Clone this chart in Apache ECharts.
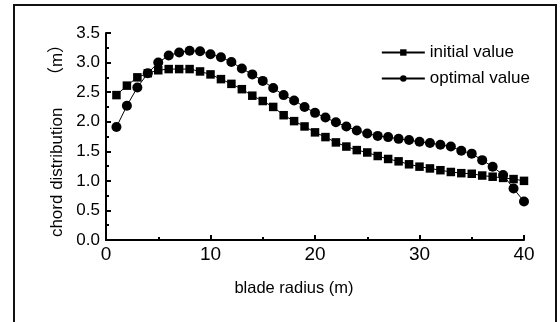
<!DOCTYPE html>
<html>
<head>
<meta charset="utf-8">
<script src="https://cdn.jsdelivr.net/npm/echarts@6/dist/echarts.min.js"></script>
<style>
  html, body { margin: 0; padding: 0; background: #fff; }
  #chart { width: 560px; height: 322px; }
</style>
</head>
<body>
<div id="chart"></div>
<script>
// blade radius stations (m)
const radius = [1, 2, 3, 4, 5, 6, 7, 8, 9, 10, 11, 12, 13, 14, 15, 16, 17, 18, 19, 20,
  21, 22, 23, 24, 25, 26, 27, 28, 29, 30, 31, 32, 33, 34, 35, 36, 37, 38, 39, 40];

const initialValue = [2.45, 2.61, 2.75, 2.82, 2.87, 2.89, 2.89, 2.89, 2.85, 2.80,
  2.72, 2.64, 2.55, 2.44, 2.35, 2.25, 2.11, 2.01, 1.92, 1.82,
  1.74, 1.65, 1.58, 1.52, 1.48, 1.42, 1.37, 1.33, 1.28, 1.24,
  1.21, 1.18, 1.15, 1.13, 1.12, 1.09, 1.07, 1.05, 1.03, 1.00];

const optimalValue = [1.91, 2.27, 2.58, 2.82, 3.00, 3.12, 3.17, 3.20, 3.19, 3.14,
  3.09, 3.01, 2.90, 2.80, 2.69, 2.57, 2.45, 2.36, 2.25, 2.15,
  2.07, 1.99, 1.92, 1.85, 1.80, 1.76, 1.74, 1.71, 1.69, 1.66,
  1.64, 1.61, 1.58, 1.51, 1.46, 1.35, 1.24, 1.10, 0.87, 0.65];

const seriesNames = ['initial value', 'optimal value'];

const font = 'Liberation Sans, Arial, Noto Sans CJK SC, sans-serif';
const chart = echarts.init(document.getElementById('chart'));

const pair = (ys) => radius.map((x, i) => [x, ys[i]]);

chart.setOption({
  animation: false,
  textStyle: { fontFamily: font, color: '#000' },
  grid: { left: 106, top: 33, right: 36, bottom: 82 },
  // outer frame
  graphic: [{
    type: 'rect',
    shape: { x: 14, y: 5, width: 542, height: 330 },
    style: { fill: 'none', stroke: '#111', lineWidth: 2 },
    silent: true
  }],
  legend: {
    right: 25,
    top: 39,
    orient: 'vertical',
    itemWidth: 43,
    itemHeight: 8,
    itemGap: 9,
    textStyle: { fontSize: 17, color: '#000', fontFamily: font },
    data: seriesNames
  },
  xAxis: {
    type: 'value',
    min: 0,
    max: 40,
    interval: 10,
    name: 'blade radius (m)',
    nameLocation: 'middle',
    nameGap: 40,
    nameTextStyle: { fontSize: 16.5, color: '#000', padding: [0, 42, 0, 0] },
    axisLine: { onZero: false, lineStyle: { color: '#000', width: 2 } },
    axisTick: { inside: true, length: 5, lineStyle: { color: '#000', width: 2 } },
    minorTick: { show: true, splitNumber: 2, length: 3, lineStyle: { color: '#000', width: 2 } },
    axisLabel: { fontSize: 19, color: '#000', margin: 5 },
    splitLine: { show: false }
  },
  yAxis: {
    type: 'value',
    min: 0,
    max: 3.5,
    interval: 0.5,
    name: 'chord distribution     （m）',
    nameLocation: 'middle',
    nameGap: 36,
    nameTextStyle: { fontSize: 17, color: '#000' },
    axisLine: { show: true, onZero: false, lineStyle: { color: '#000', width: 2 } },
    axisTick: { inside: true, length: 5, lineStyle: { color: '#000', width: 2 } },
    minorTick: { show: true, splitNumber: 2, length: 3, lineStyle: { color: '#000', width: 2 } },
    axisLabel: { fontSize: 17, color: '#000', margin: 6, formatter: (v) => v.toFixed(1) },
    splitLine: { show: false }
  },
  series: [
    {
      name: seriesNames[0],
      type: 'line',
      data: pair(initialValue),
      symbol: 'rect',
      symbolSize: 8.5,
      itemStyle: { color: '#000' },
      lineStyle: { color: '#000', width: 1 }
    },
    {
      name: seriesNames[1],
      type: 'line',
      data: pair(optimalValue),
      symbol: 'circle',
      symbolSize: 10,
      itemStyle: { color: '#000' },
      lineStyle: { color: '#000', width: 1 }
    }
  ]
});
</script>
</body>
</html>
